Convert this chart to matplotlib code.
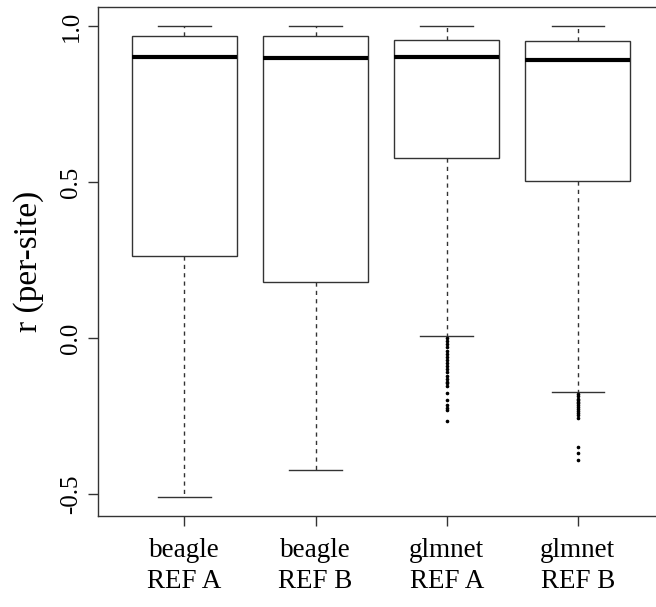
import matplotlib
matplotlib.use("Agg")
from matplotlib import pyplot as plt

# per-group summary
labels = ["beagle\nREF A", "beagle\nREF B", "glmnet\nREF A", "glmnet\nREF B"]
whisker_hi = [1.0, 1.0, 1.0, 1.0]
q3 = [0.968, 0.968, 0.954, 0.953]
medians = [0.902, 0.898, 0.901, 0.891]
q1 = [0.263, 0.179, 0.577, 0.504]
whisker_lo = [-0.509, -0.423, 0.008, -0.172]

outliers_c = [0.000, -0.010, -0.020, -0.030, -0.040, -0.050, -0.060, -0.070,
              -0.080, -0.090, -0.100, -0.110, -0.120, -0.130, -0.140, -0.145,
              -0.155, -0.177, -0.198, -0.214, -0.225, -0.232, -0.265]
outliers_d = [-0.180, -0.187, -0.194, -0.198, -0.205, -0.209, -0.216, -0.220,
              -0.227, -0.234, -0.240, -0.248, -0.255, -0.350, -0.369, -0.391]
outliers = [[], [], outliers_c, outliers_d]

plt.rcParams["font.family"] = ["Liberation Serif", "DejaVu Serif"]

fig = plt.figure(figsize=(6.56, 6.07), dpi=100)
ax = fig.add_axes([0.149, 0.150, 0.864, 0.838])

stats = []
for i in range(len(labels)):
    stats.append({
        "whishi": whisker_hi[i], "q3": q3[i], "med": medians[i],
        "q1": q1[i], "whislo": whisker_lo[i], "fliers": outliers[i],
    })

ax.bxp(
    stats,
    positions=range(1, len(labels) + 1),
    widths=0.8,
    patch_artist=True,
    showfliers=True,
    boxprops=dict(facecolor="white", edgecolor="#333333", linewidth=1.0),
    medianprops=dict(color="black", linewidth=3.0, solid_capstyle="butt"),
    whiskerprops=dict(color="#333333", linewidth=1.0, linestyle=(0, (3, 3))),
    capprops=dict(color="#333333", linewidth=1.0),
    capwidths=0.4,
    flierprops=dict(marker="o", markersize=1.6, markerfacecolor="black",
                    markeredgecolor="black", linestyle="none"),
)

ax.set_xlim(0.34, 4.66)
ax.set_ylim(-0.57, 1.06)
ax.set_xticks(range(1, len(labels) + 1))
ax.set_xticklabels(labels, fontsize=19.5, linespacing=1.32)
ax.set_yticks([-0.5, 0.0, 0.5, 1.0])
ax.set_yticklabels(["-0.5", "0.0", "0.5", "1.0"], fontsize=18,
                   rotation=90, va="center")
ax.tick_params(axis="both", length=7, width=1.0, color="#333333")
ax.tick_params(axis="y", pad=4)
ax.tick_params(axis="x", pad=9)
for s in ax.spines.values():
    s.set_color("#333333")
    s.set_linewidth(1.0)

ax.set_ylabel("r (per-site)", fontsize=24)
ax.yaxis.set_label_coords(-0.094, 0.5)

fig.savefig("out.png", dpi=100)
